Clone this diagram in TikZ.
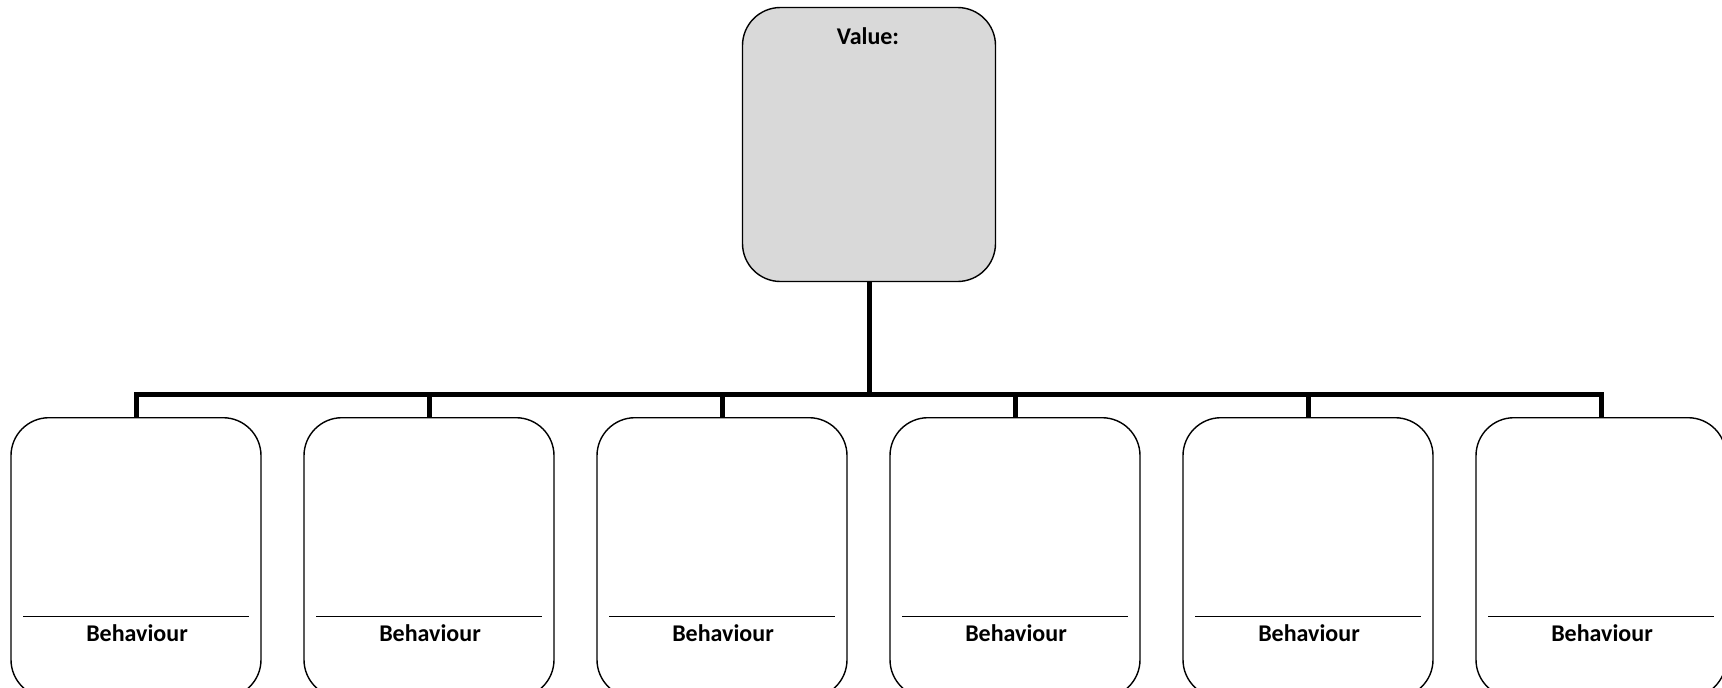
\documentclass[tikz,border=0pt]{standalone}
\usepackage{fontspec}
\setmainfont{Carlito}
\definecolor{boxgray}{HTML}{D9D9D9}
\begin{document}
\begin{tikzpicture}[x=1pt,y=-1pt,
  valbox/.style={draw=black,line width=1.4pt,rounded corners=38pt,fill=boxgray,inner sep=0pt,minimum width=253pt,minimum height=274pt},
  behbox/.style={draw=black,line width=1.4pt,rounded corners=38pt,fill=white,inner sep=0pt,minimum width=250pt,minimum height=280pt},
  conn/.style={line width=5pt,line join=miter},
  sep/.style={line width=1.4pt},
  lbl/.style={font=\fontsize{24}{28}\selectfont\bfseries,inner sep=0pt,anchor=base}]
\useasboundingbox (0,0) rectangle (1722,688);
\node[valbox] (top) at (869,144.5) {};
\node[font=\fontsize{24}{28}\selectfont\bfseries,inner sep=0pt,anchor=base] (vlab) at (868,44) {Value:};
\coordinate (bus) at (869,394);
\foreach \i/\cx in {1/136,2/429,3/722,4/1015,5/1308,6/1601}{
  \node[behbox] (b\i) at (\cx,557.7) {};
  \coordinate (s\i l) at (\cx-113,616.7);
  \coordinate (s\i r) at (\cx+113,616.7);
  \draw[sep] (s\i l) -- (s\i r);
  \node[lbl] (t\i) at (\cx+1,641.7) {Behaviour};
}
\draw[conn] (top.south) -- (bus);
\draw[conn] (b1.north) -- (b1.north |- bus) -- (b6.north |- bus) -- (b6.north);
\foreach \i in {2,3,4,5}{
  \draw[conn] (b\i.north) -- (b\i.north |- bus);
}
\end{tikzpicture}
\end{document}
